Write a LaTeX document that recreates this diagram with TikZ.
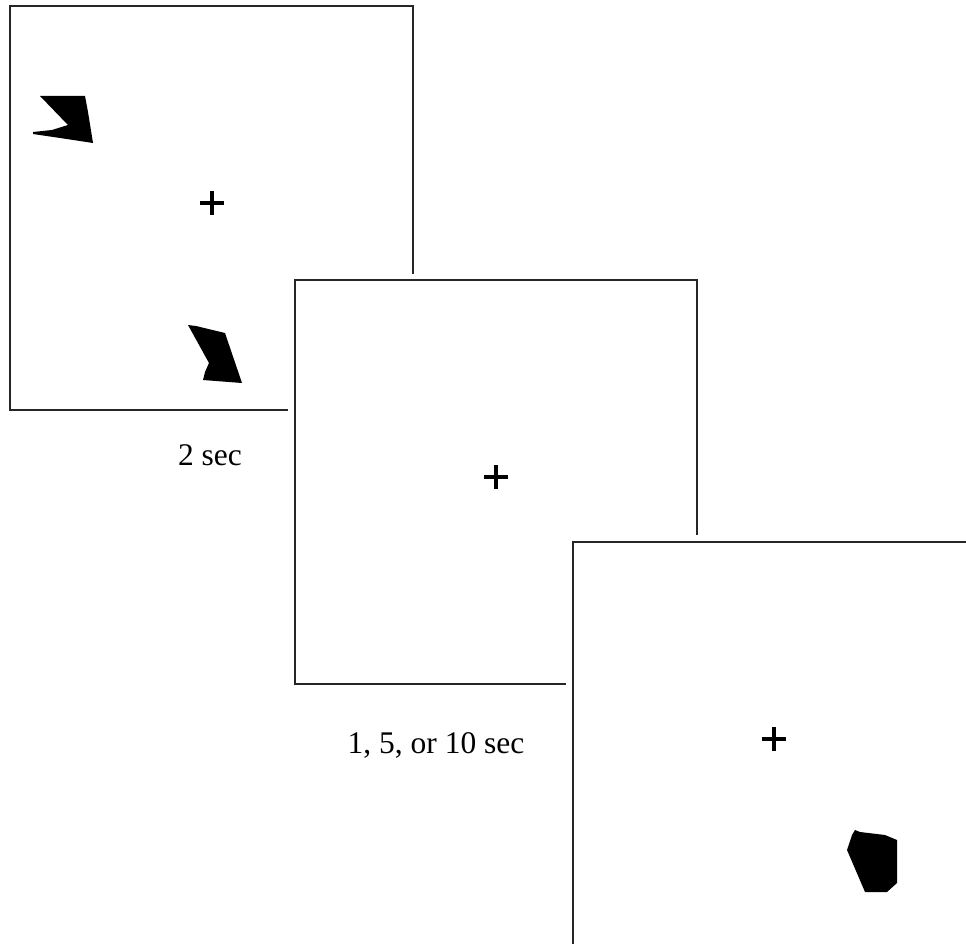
\documentclass[tikz,border=0pt]{standalone}
\usepackage{fontspec}
\setmainfont{Liberation Serif}
\begin{document}
\begin{tikzpicture}[x=1pt,y=-1pt,
  frame/.style={draw=black!85,line width=2pt},
  mask/.style={fill=white,draw=none},
  fixcross/.style={line width=3.6pt,black},
  blob/.style={fill=black,draw=none},
  lbl/.style={font=\fontsize{31.5}{36}\selectfont,inner sep=0pt,anchor=base}]
\useasboundingbox (0,0) rectangle (966,944);
\clip (0,0) rectangle (966,944);
\fill[white] (0,0) rectangle (966,944);
% panel 1
\draw[frame] (10,6) rectangle (413,410);
\draw[fixcross] (200,203) -- (224,203) (212,191) -- (212,215);
\fill[blob] (40,96) -- (85,96) -- (88,112) -- (93,143) -- (60,138) -- (33,134) -- (33,132) -- (52,130) -- (68,125) -- cycle;
\fill[blob] (188,325) -- (196,326) -- (225,333) -- (242,383) -- (203,380) -- (205,372) -- (209,363) -- cycle;
\node[lbl] (t1) at (210,465) {2 sec};
% panel 2
\fill[mask] (288,274) rectangle (704,691);
\draw[frame] (295,280) rectangle (697,684);
\draw[fixcross] (484,477) -- (508,477) (496,465) -- (496,489);
\node[lbl] (t2) at (436,753) {1, 5, or 10 sec};
% panel 3
\fill[mask] (566,535) rectangle (990,960);
\draw[frame] (573,542) rectangle (975,946);
\draw[fixcross] (762,739) -- (786,739) (774,727) -- (774,751);
\fill[blob] (855,830) -- (860,832) -- (885,835) -- (897,840) -- (897,883) -- (887,892) -- (865,892) -- (847,850) -- (852,835) -- cycle;
\end{tikzpicture}
\end{document}
